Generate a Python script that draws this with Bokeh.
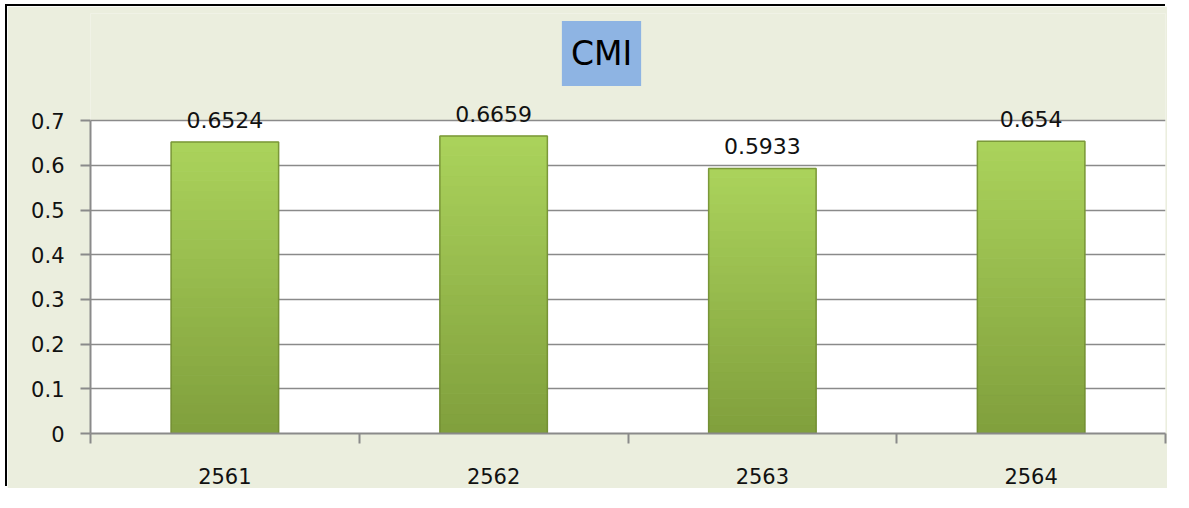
from bokeh.plotting import figure
from bokeh.models import (FixedTicker, CustomJSTickFormatter, Label, ColumnDataSource, Range1d)
from bokeh.embed import file_html
from bokeh.resources import INLINE
from bokeh.core.properties import value

# ---- data ----
years = ["2561", "2562", "2563", "2564"]
cmi = [0.6524, 0.6659, 0.5933, 0.654]
y_ticks = [0, 0.1, 0.2, 0.3, 0.4, 0.5, 0.6, 0.7]
title_text = "CMI"

FONT = "DejaVu Sans"
BG = "#EBEEDE"
AXIS_C = "#8A8A8A"
Y_TOP = 0.7          # top of the white plot area
Y_VIEW = 0.94        # extra room above for title and labels

p = figure(width=1160, height=482, output_backend="svg", toolbar_location=None,
           x_range=Range1d(0, len(years)), y_range=Range1d(0, Y_VIEW),
           min_border_left=83, min_border_right=2, min_border_top=7, min_border_bottom=55)
p.styles = {"margin-left": "7px", "margin-top": "6px", "box-shadow": "-2px -2px 0 0 #000000"}
p.border_fill_color = BG
p.background_fill_color = BG
p.outline_line_color = None

# white plot area, below the grid
p.quad(left=0, right=len(years), bottom=0, top=Y_TOP, fill_color="white",
       line_color=None, level="image")

xc = [i + 0.5 for i in range(len(years))]

# gradient bars built from slices of each bar's own height
top_c = (0xAB, 0xD3, 0x5C)
bot_c = (0x80, 0x9F, 0x3C)
n = 30
xs, bots, tops, cols = [], [], [], []
for x, v in zip(xc, cmi):
    for k in range(n):
        f = (k + 0.5) / n
        c = tuple(int(round(bot_c[j] + (top_c[j] - bot_c[j]) * f)) for j in range(3))
        xs.append(x)
        bots.append(v * k / n)
        tops.append(v * (k + 1) / n)
        cols.append("#%02x%02x%02x" % c)
p.vbar(x=xs, bottom=bots, top=tops, width=0.4, fill_color=cols, line_color=cols, line_width=1)
src = ColumnDataSource(dict(x=xc, top=cmi, lab=[str(v) for v in cmi]))
p.vbar(x="x", top="top", width=0.4, source=src, fill_color=None,
       line_color="#6E8A30", line_alpha=0.8, line_width=1.5)

# value labels
p.text(x="x", y="top", text="lab", source=src, text_align="center", text_baseline="alphabetic",
       y_offset=-22, text_font=value(FONT), text_font_size="22px", text_color="#111111")

# axes
p.xgrid.visible = False
p.ygrid.ticker = FixedTicker(ticks=y_ticks)
p.ygrid.grid_line_color = AXIS_C
p.ygrid.grid_line_width = 1.6

ya = p.yaxis[0]
ya.ticker = FixedTicker(ticks=y_ticks)
ya.bounds = (0, Y_TOP)
ya.formatter = CustomJSTickFormatter(code="return String(Math.round(tick*10)/10)")
ya.axis_line_color = AXIS_C
ya.axis_line_width = 2
ya.major_tick_line_color = AXIS_C
ya.major_tick_line_width = 2
ya.major_tick_out = 10
ya.major_tick_in = 0
ya.minor_tick_line_color = None
ya.major_label_standoff = 16
ya.major_label_text_font = FONT
ya.major_label_text_font_size = "21px"
ya.major_label_text_color = "#111111"

xa = p.xaxis[0]
xa.ticker = FixedTicker(ticks=xc, minor_ticks=list(range(len(years) + 1)))
xa.formatter = CustomJSTickFormatter(args=dict(cats=years), code="return cats[Math.floor(tick)]")
xa.axis_line_color = AXIS_C
xa.axis_line_width = 2
xa.major_tick_line_color = None
xa.minor_tick_line_color = AXIS_C
xa.minor_tick_line_width = 2
xa.minor_tick_out = 10
xa.minor_tick_in = 0
xa.major_label_standoff = 24
xa.major_label_text_font = FONT
xa.major_label_text_font_size = "21px"
xa.major_label_text_color = "#111111"

# title box
title = Label(x=1.9014, y=0.8505, text=title_text,
              text_align="center", text_baseline="middle", text_font=FONT,
              text_font_size="33px", text_color="#000000",
              background_fill_color="#8EB4E3", padding=(9, 13))
p.add_layout(title)

open("out.html", "w").write(file_html(p, INLINE))
